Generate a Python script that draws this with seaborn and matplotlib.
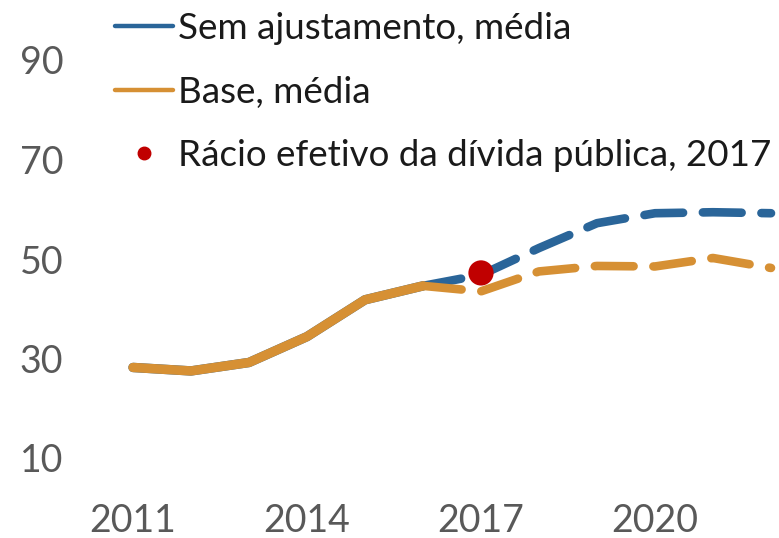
import pandas as pd
import matplotlib.pyplot as plt
import seaborn as sns
from matplotlib.lines import Line2D

# Values (% of GDP)
years = [2011, 2012, 2013, 2014, 2015, 2016, 2017, 2018, 2019, 2020, 2021, 2022]
sem_ajust = [28.2, 27.5, 29.2, 34.4, 41.8, 44.6, 46.8, 52.2, 57.2, 59.2, 59.4, 59.2]
base = [28.2, 27.5, 29.2, 34.4, 41.8, 44.6, 43.5, 47.5, 48.6, 48.5, 50.2, 48.2]
ratio_year = [2017]
ratio_value = [47.2]
last_actual = 2016

y_ticks = [10, 30, 50, 70, 90]
x_ticks = [2011, 2014, 2017, 2020]

blue = "#2a6599"
orange = "#d69034"
red = "#c00000"

df = pd.DataFrame({"Ano": years, "Sem": sem_ajust, "Base": base})
hist = df[df["Ano"] <= last_actual]
proj = df[df["Ano"] >= last_actual]

sns.set_style("white")
plt.rcParams["font.family"] = ["Lato", "DejaVu Sans"]

W, H = 779, 538
fig = plt.figure(figsize=(W / 100, H / 100), dpi=100)
ax = fig.add_axes([80 / W, 48 / H, 1 - 80 / W, 1 - 48 / H])

dash_kw = dict(lw=6.2, dashes=(4.5, 2.3), dash_capstyle="round", solid_capstyle="round")
sns.lineplot(x="Ano", y="Sem", data=proj, ax=ax, color=blue, **dash_kw)
sns.lineplot(x="Ano", y="Sem", data=hist, ax=ax, color=blue, lw=6.8, solid_capstyle="round")
sns.lineplot(x="Ano", y="Base", data=proj, ax=ax, color=orange, **dash_kw)
sns.lineplot(x="Ano", y="Base", data=hist, ax=ax, color=orange, lw=6.8, solid_capstyle="round")
sns.scatterplot(x=ratio_year, y=ratio_value, ax=ax, color=red, s=330, edgecolor="none", zorder=5)

# px-based limits: 2011 at x=133, 2022 at x=771; 10 at y=458, 90 at y=60
px_year = (771 - 133) / 11
ax.set_xlim(2011 - (133 - 80) / px_year, 2022 + (W - 771) / px_year)
px_unit = (458 - 60) / 80
ax.set_ylim(10 - (H - 48 - 458) / px_unit, 90 + 60 / px_unit)

ax.set_xticks(x_ticks)
ax.set_yticks(y_ticks)
ax.set_xticklabels([str(x) for x in x_ticks])
ax.tick_params(length=0, labelsize=27, labelcolor="#595959")
ax.tick_params(axis="y", pad=12)
ax.tick_params(axis="x", pad=9)
ax.set_xlabel("")
ax.set_ylabel("")
for s in ax.spines.values():
    s.set_visible(False)

handles = [
    Line2D([], [], color=blue, lw=3.2),
    Line2D([], [], color=orange, lw=3.2),
    Line2D([], [], color=red, marker="o", ls="none", markersize=9),
]
labels = ["Sem ajustamento, média", "Base, média", "Rácio efetivo da dívida pública, 2017"]
fig.legend(handles, labels, loc="upper left", bbox_to_anchor=(115 / W, 1.0 - 12 / H),
           frameon=False, fontsize=26.5, handlelength=1.58, handletextpad=0.14,
           labelspacing=0.83, borderaxespad=0, borderpad=0, labelcolor="#1a1a1a")

fig.savefig("out.png", dpi=100)
